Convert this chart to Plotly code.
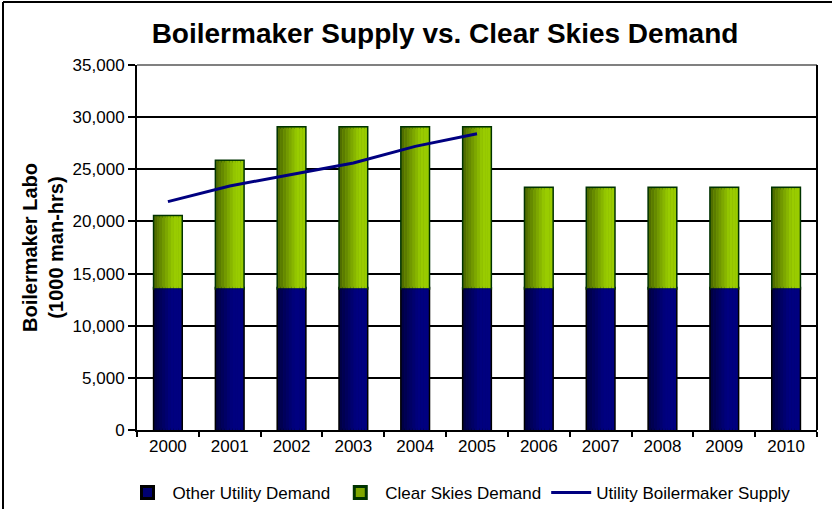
import plotly.graph_objects as go

years = ["2000", "2001", "2002", "2003", "2004", "2005", "2006", "2007", "2008", "2009", "2010"]
other_demand = [13600] * 11
total_demand = [20500, 25800, 29000, 29000, 29000, 29000, 23200, 23200, 23200, 23200, 23200]
clear_skies = [t - o for t, o in zip(total_demand, other_demand)]
supply_years = ["2000", "2001", "2002", "2003", "2004", "2005"]
supply = [21900, 23400, 24500, 25600, 27200, 28400]

W, H = 832, 509
L, R, T, B = 137, 15, 65, 79
pw, ph = W - L - R, H - T - B
BW = 0.44
NSTRIP = 10

def px(x):
    return (x - L) / pw

def py(y):
    return (H - B - y) / ph

def mix(c0, c1, t):
    return "rgb(%d,%d,%d)" % tuple(round(a + (b - a) * t) for a, b in zip(c0, c1))

font = "Liberation Sans, Arial, sans-serif"

fig = go.Figure()
# base bars with outline (also used for legend)
fig.add_trace(go.Bar(x=years, y=other_demand, name="Other Utility Demand",
                     marker=dict(color="#000070", line=dict(color="#000000", width=3)),
                     width=BW))
fig.add_trace(go.Bar(x=years, y=clear_skies, base=other_demand, name="Clear Skies Demand",
                     marker=dict(color="#7FA800", line=dict(color="#003300", width=3)),
                     width=BW))
# horizontal gradient strips
sw = BW / NSTRIP
for i in range(NSTRIP):
    t = (i + 0.5) / NSTRIP
    tb = min(1.0, t / 0.6)
    tg = min(1.0, t / 0.7)
    fig.add_trace(go.Bar(x=years, y=other_demand, width=sw, offset=-BW / 2 + i * sw,
                         marker=dict(color=mix((0, 0, 0x40), (0, 0, 0x80), tb), line=dict(width=0)),
                         showlegend=False, hoverinfo="skip"))
    fig.add_trace(go.Bar(x=years, y=clear_skies, base=other_demand, width=sw, offset=-BW / 2 + i * sw,
                         marker=dict(color=mix((0x4a, 0x66, 0x00), (0x99, 0xcc, 0x00), tg), line=dict(width=0)),
                         showlegend=False, hoverinfo="skip"))
fig.add_trace(go.Scatter(x=supply_years, y=supply, name="Utility Boilermaker Supply",
                         mode="lines", line=dict(color="#000080", width=3)))

fig.update_layout(
    width=W, height=H,
    barmode="overlay",
    paper_bgcolor="white", plot_bgcolor="white",
    margin=dict(l=L, r=R, t=T, b=B),
    font=dict(family=font, color="black", size=17),
    title=dict(text="<b>Boilermaker Supply vs. Clear Skies Demand</b>",
               x=445 / W, xanchor="center", y=1 - 33 / H, yanchor="middle",
               font=dict(size=28, family=font, color="black")),
    showlegend=True,
    legend=dict(orientation="h", x=459 / W, xanchor="center", xref="container",
                y=1 - 493 / H, yanchor="middle", yref="container",
                font=dict(size=17, family=font), traceorder="normal",
                itemwidth=40, bgcolor="rgba(0,0,0,0)"),
    xaxis=dict(type="category", showgrid=False, showline=True, linecolor="black", linewidth=2,
               ticks="outside", ticklen=5, tickwidth=2, tickcolor="black", tickson="boundaries",
               tickfont=dict(size=17, family=font)),
    yaxis=dict(range=[0, 35000], dtick=5000, tickformat=",", showgrid=True, gridcolor="black",
               gridwidth=2, showline=True, linecolor="black", linewidth=2, ticks="outside",
               ticklen=7, tickwidth=2, tickcolor="black", zeroline=False,
               tickfont=dict(size=17, family=font),
               title=dict(text="<b>Boilermaker Labo<br>(1000 man-hrs)</b>",
                          font=dict(size=20, family=font), standoff=4)),
    shapes=[
        dict(type="line", xref="paper", yref="paper", x0=0, x1=1, y0=1, y1=1,
             line=dict(color="#808080", width=2)),
        dict(type="line", xref="paper", yref="paper", x0=1, x1=1, y0=0, y1=1,
             line=dict(color="black", width=2)),
        dict(type="line", xref="paper", yref="paper", x0=px(3), x1=px(3), y0=py(2), y1=py(509),
             line=dict(color="black", width=2)),
        dict(type="line", xref="paper", yref="paper", x0=px(3), x1=px(832), y0=py(2), y1=py(2),
             line=dict(color="black", width=2)),
    ],
)

fig.write_html("out.html", config={"displayModeBar": False},
               post_script="document.body.style.margin='0';document.body.style.padding='0';")
